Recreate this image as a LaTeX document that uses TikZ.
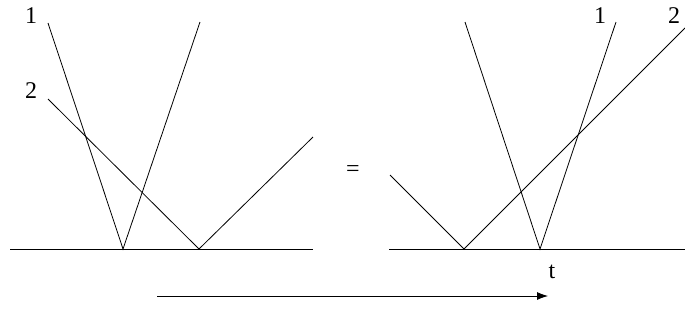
\documentclass[tikz,border=0pt]{standalone}
\usepackage{fontspec}
\setmainfont{Liberation Serif}
\usetikzlibrary{arrows.meta}
\begin{document}
\begin{tikzpicture}[x=1pt,y=-1pt,
  ray/.style={line width=0.8pt,line join=miter},
  lbl/.style={font=\fontsize{24}{28}\selectfont,inner sep=0pt}]
\useasboundingbox (0,0) rectangle (685,333);
% left diagram
\coordinate (lb0) at (10,249);
\coordinate (lb1) at (313,249);
\coordinate (la) at (48,23);
\coordinate (lv1) at (123,249);
\coordinate (lc) at (200,22);
\coordinate (ld) at (48,99);
\coordinate (lv2) at (199,249);
\coordinate (le) at (313,137);
\draw[ray] (lb0) -- (lb1);
\draw[ray] (la) -- (lv1) -- (lc);
\draw[ray] (ld) -- (lv2) -- (le);
\node[lbl] (l1) at (31,16) {1};
\node[lbl] (l2) at (31,91) {2};
% equals
\node[lbl] (eq) at (353,171) {=};
% right diagram
\coordinate (rb0) at (389,249);
\coordinate (rb1) at (685,249);
\coordinate (ra) at (390,175);
\coordinate (rv2) at (464,249);
\coordinate (rc) at (685,28);
\coordinate (rd) at (465,22);
\coordinate (rv1) at (540,249);
\coordinate (re) at (616,22);
\draw[ray] (rb0) -- (rb1);
\draw[ray] (ra) -- (rv2) -- (rc);
\draw[ray] (rd) -- (rv1) -- (re);
\node[lbl] (r1) at (600,16) {1};
\node[lbl] (r2) at (674,16) {2};
% time arrow
\coordinate (ta) at (157,296);
\coordinate (tb) at (548,296);
\draw[ray,-{Latex[length=11pt,width=8pt]}] (ta) -- (tb);
\node[lbl] (t) at (552,272) {t};
\end{tikzpicture}
\end{document}
